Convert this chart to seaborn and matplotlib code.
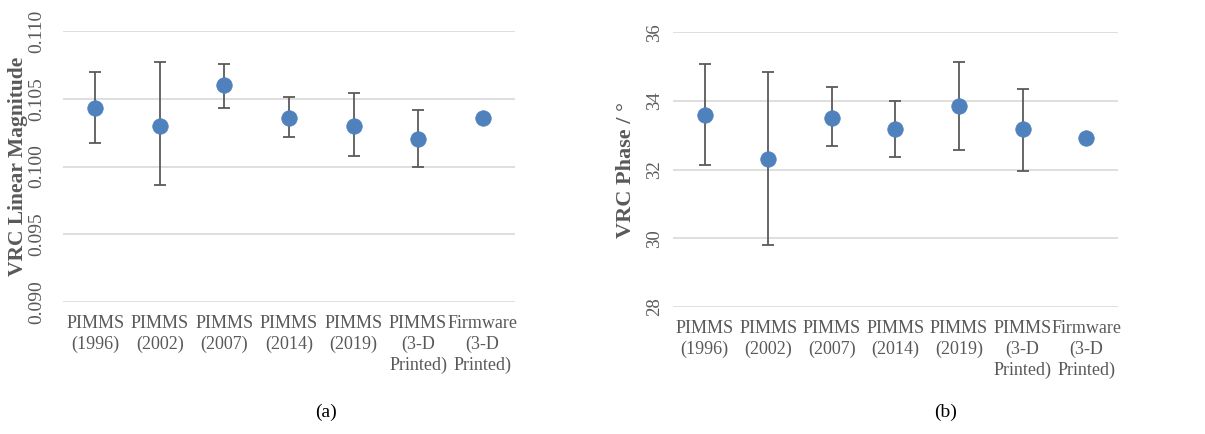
import numpy as np
import pandas as pd
import matplotlib
matplotlib.use("Agg")
import matplotlib.pyplot as plt
import seaborn as sns

categories = ["PIMMS\n(1996)", "PIMMS\n(2002)", "PIMMS\n(2007)", "PIMMS\n(2014)",
              "PIMMS\n(2019)", "PIMMS\n(3-D\nPrinted)", "Firmware\n(3-D\nPrinted)"]

# VRC linear magnitude: mean, lower and upper end of error bar
mag_mean = [0.1043, 0.1030, 0.1060, 0.1036, 0.1030, 0.1020, 0.1036]
mag_low = [0.1017, 0.0986, 0.1043, 0.1022, 0.1008, 0.1000, np.nan]
mag_high = [0.1070, 0.1077, 0.1076, 0.1051, 0.1054, 0.1042, np.nan]

# VRC phase (degrees)
phase_mean = [33.58, 32.31, 33.51, 33.18, 33.85, 33.18, 32.92]
phase_low = [32.13, 29.80, 32.69, 32.38, 32.56, 31.97, np.nan]
phase_high = [35.08, 34.85, 34.40, 33.99, 35.14, 34.36, np.nan]

mag_ticks = [0.090, 0.095, 0.100, 0.105, 0.110]
phase_ticks = [28, 30, 32, 34, 36]

sns.set_theme(style="white")
plt.rcParams['font.family'] = ['Liberation Serif', 'DejaVu Serif']

blue = '#4F81BD'
grey_txt = '#595959'
err_col = '#5a5a5a'


def panel(ax, mean, low, high, ticks, fmt, ylabel, ytick_size, ytick_pad, ylab_size, ylab_x):
    df = pd.DataFrame({'cat': categories, 'val': mean})
    err = [np.array(mean) - np.array(low), np.array(high) - np.array(mean)]
    ax.errorbar(categories, mean, yerr=err, fmt='none', ecolor=err_col,
                elinewidth=1.3, capsize=4.5, capthick=1.3, zorder=2)
    sns.scatterplot(data=df, x='cat', y='val', ax=ax, color=blue, s=125,
                    edgecolor=blue, linewidth=0.5, zorder=3)
    ax.set_xlim(-0.5, len(categories) - 0.5)
    ax.set_ylim(ticks[0], ticks[-1])
    ax.set_yticks(ticks)
    ax.set_yticklabels([fmt.format(t) for t in ticks], rotation=90, va='center',
                       fontsize=ytick_size, color=grey_txt)
    ax.set_xticks(range(len(categories)))
    ax.set_xticklabels(categories, fontsize=13, color=grey_txt, linespacing=1.3)
    ax.tick_params(axis='x', length=0, pad=9)
    ax.tick_params(axis='y', length=0, pad=ytick_pad)
    ax.yaxis.grid(True, color='#d9d9d9', linewidth=1.2)
    ax.set_axisbelow(True)
    for s in ax.spines.values():
        s.set_visible(False)
    ax.set_xlabel('')
    ax.set_ylabel(ylabel, fontsize=ylab_size, fontweight='bold', color=grey_txt)
    ax.yaxis.set_label_coords(ylab_x, 0.5)
    ax.yaxis.label.set_va('center')


fig = plt.figure(figsize=(12.05, 4.34), dpi=100)
ax1 = fig.add_axes([0.0523, 0.3041, 0.375, 0.6244])
ax2 = fig.add_axes([0.5585, 0.2926, 0.3693, 0.633])

panel(ax1, mag_mean, mag_low, mag_high, mag_ticks, '{:.3f}', 'VRC Linear Magnitude',
      14, 13, 15.5, -0.0996)
panel(ax2, phase_mean, phase_low, phase_high, phase_ticks, '{:.0f}', 'VRC Phase / °',
      13.5, 7, 16, -0.1067)

fig.text(326 / 1205, 1 - 412 / 434, '(a)', ha='center', va='center', fontsize=14, color='black')
fig.text(946 / 1205, 1 - 412 / 434, '(b)', ha='center', va='center', fontsize=14, color='black')

fig.savefig('out.png', dpi=100)
